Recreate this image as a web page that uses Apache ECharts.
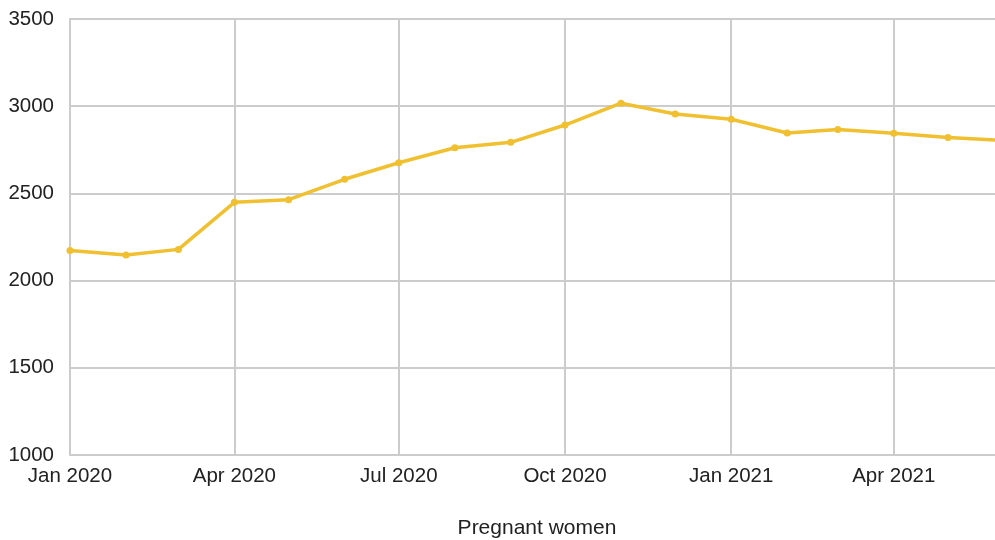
<!DOCTYPE html>
<html>
<head>
<meta charset="utf-8">
<script src="https://cdn.jsdelivr.net/npm/echarts@6/dist/echarts.min.js"></script>
<style>
  html, body { margin: 0; padding: 0; background: #fff; }
  #chart { width: 995px; height: 540px; overflow: hidden; }
</style>
</head>
<body>
<div id="chart"></div>
<script>
// Monthly counts, first day of each month
const months = [
  '2020-01-01', '2020-02-01', '2020-03-01', '2020-04-01', '2020-05-01', '2020-06-01',
  '2020-07-01', '2020-08-01', '2020-09-01', '2020-10-01', '2020-11-01', '2020-12-01',
  '2021-01-01', '2021-02-01', '2021-03-01', '2021-04-01', '2021-05-01', '2021-06-01'
];
const pregnantWomen = [
  2172, 2147, 2179, 2449, 2464, 2581,
  2676, 2762, 2793, 2892, 3017, 2955,
  2925, 2846, 2867, 2845, 2820, 2803
];
// Quarterly ticks on the date axis
const tickDates = ['2020-01-01', '2020-04-01', '2020-07-01', '2020-10-01', '2021-01-01', '2021-04-01'];
const monthNames = ['Jan', 'Feb', 'Mar', 'Apr', 'May', 'Jun', 'Jul', 'Aug', 'Sep', 'Oct', 'Nov', 'Dec'];
const seriesName = 'Pregnant women';

const toTime = s => { const [y, m, d] = s.split('-').map(Number); return Date.UTC(y, m - 1, d); };
const tickTimes = tickDates.map(toTime);

const chart = echarts.init(document.getElementById('chart'), null, { renderer: 'canvas' });
const font = '"Liberation Sans", Arial, sans-serif';

chart.setOption({
  animation: false,
  backgroundColor: '#ffffff',
  // the plot runs a little past the right edge, so the last month sits just off-canvas
  grid: { left: 70, right: -9, top: 19, bottom: 85, containLabel: false, outerBoundsMode: 'none' },
  xAxis: {
    type: 'value',
    min: toTime(months[0]),
    max: toTime(months[months.length - 1]),
    name: seriesName,
    nameLocation: 'middle',
    nameGap: 63,
    nameTextStyle: { fontFamily: font, fontSize: 21, color: '#222' },
    axisLine: { show: true, lineStyle: { color: '#cccccc', width: 2 } },
    axisTick: { show: false, customValues: tickTimes },
    axisLabel: {
      customValues: tickTimes,
      fontFamily: font, fontSize: 20.5, color: '#222', margin: 11,
      formatter: v => { const d = new Date(v); return monthNames[d.getUTCMonth()] + ' ' + d.getUTCFullYear(); }
    },
    splitLine: { show: true, lineStyle: { color: '#cccccc', width: 2 } }
  },
  yAxis: {
    type: 'value',
    min: 1000,
    max: 3500,
    interval: 500,
    axisLine: { show: true, lineStyle: { color: '#cccccc', width: 2 } },
    axisTick: { show: false },
    axisLabel: { fontFamily: font, fontSize: 20.5, color: '#222', margin: 16, formatter: v => String(v) },
    splitLine: { show: true, lineStyle: { color: '#cccccc', width: 2 } }
  },
  series: [{
    name: seriesName,
    type: 'line',
    data: months.map((m, i) => [toTime(m), pregnantWomen[i]]),
    symbol: 'circle',
    symbolSize: 7,
    showSymbol: true,
    itemStyle: { color: '#f0c030' },
    lineStyle: { color: '#f0c030', width: 3.5 },
    clip: false
  }]
});
</script>
</body>
</html>
